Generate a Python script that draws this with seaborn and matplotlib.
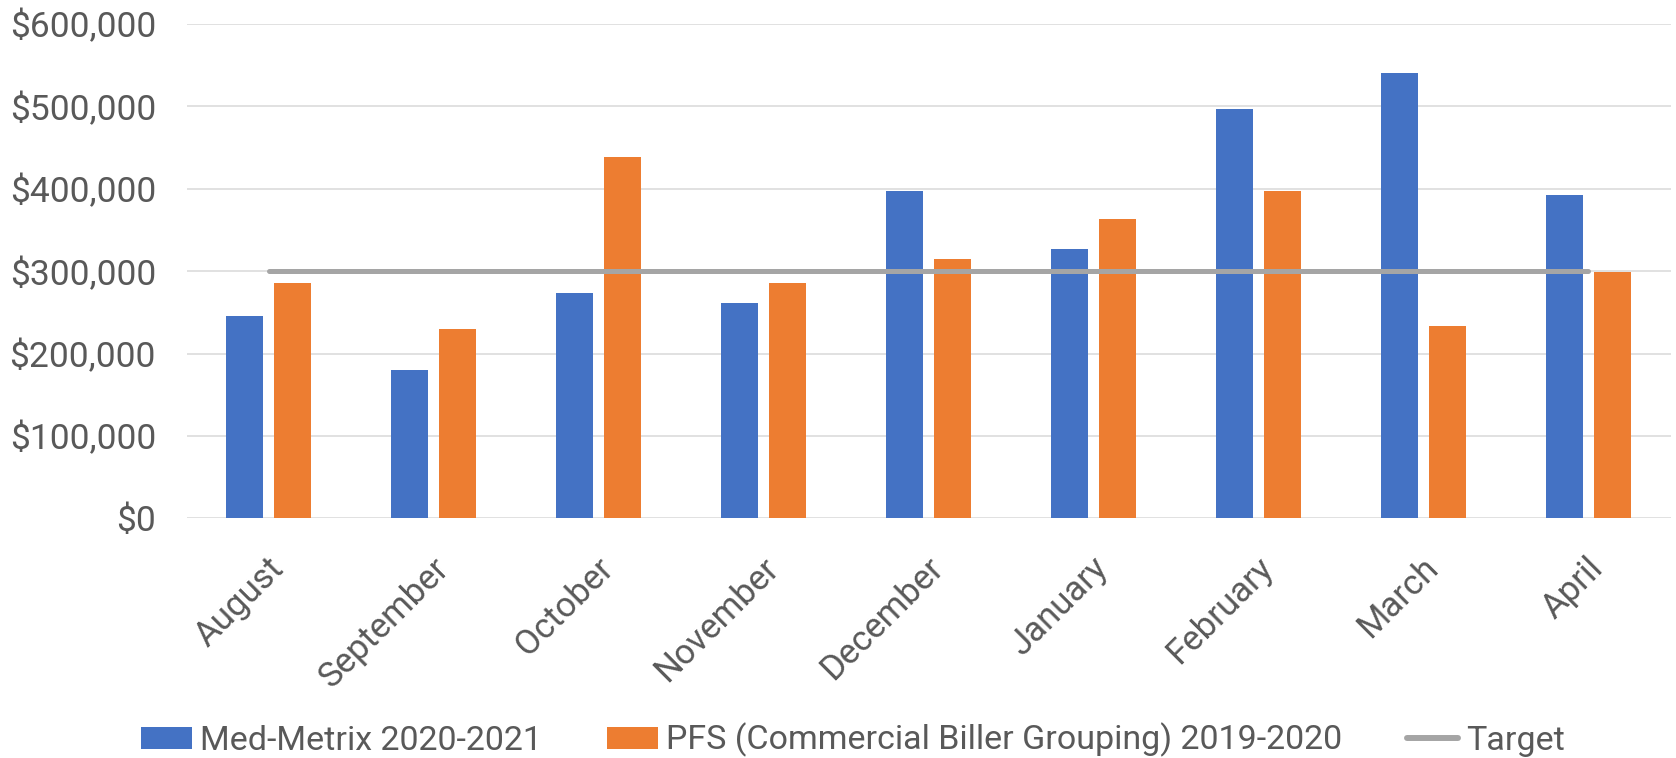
import matplotlib
matplotlib.use("Agg")
import matplotlib.pyplot as plt
import matplotlib.transforms as mtransforms
from matplotlib.patches import Patch
from matplotlib.lines import Line2D
from matplotlib.ticker import FuncFormatter, MultipleLocator
import seaborn as sns
import pandas as pd

# Monthly collections by source
months = ["August", "September", "October", "November", "December",
          "January", "February", "March", "April"]
med_metrix = [245000, 180000, 274000, 261000, 397000, 327000, 497000, 540000, 392000]
pfs = [286000, 230000, 439000, 285000, 315000, 363000, 397000, 233000, 299000]
target = [300000, 300000, 300000, 300000, 300000, 300000, 300000, 300000, 300000]

series_names = ["Med-Metrix 2020-2021", "PFS (Commercial Biller Grouping) 2019-2020"]
target_name = "Target"

BLUE = "#4472C4"
ORANGE = "#ED7D31"
GRAY = "#A5A5A5"
GRID = "#D9D9D9"
TEXT = "#595959"

sns.set_theme(style="white")
plt.rcParams["font.family"] = ["Roboto", "DejaVu Sans"]

df = pd.DataFrame({
    "month": months * 2,
    "value": med_metrix + pfs,
    "series": [series_names[0]] * len(months) + [series_names[1]] * len(months),
})

fig = plt.figure(figsize=(16.76, 7.58), dpi=100)
ax = fig.add_axes([186.5 / 1676, 1 - 518.3 / 758, 1484 / 1676, 494.4 / 758])

sns.barplot(data=df, x="month", y="value", hue="series", order=months,
            hue_order=series_names, palette=[BLUE, ORANGE], saturation=1,
            width=0.582, gap=0.23, linewidth=0, legend=False, ax=ax)

ax.plot(range(len(months)), target, color=GRAY, lw=3.6,
        solid_capstyle="round", zorder=3)

ax.set_xlim(-0.5, len(months) - 0.5)
ax.set_ylim(0, 600000)
ax.yaxis.set_major_locator(MultipleLocator(100000))
ax.yaxis.set_major_formatter(FuncFormatter(lambda v, p: f"${v:,.0f}"))
ax.grid(axis="y", color=GRID, lw=1.1, zorder=0)
ax.grid(axis="x", visible=False)
ax.set_axisbelow(True)
for s in ax.spines.values():
    s.set_visible(False)
ax.set_xlabel("")
ax.set_ylabel("")

ax.tick_params(axis="y", length=0, pad=22, labelsize=25.5, labelcolor=TEXT)
ax.tick_params(axis="x", length=0, pad=0, labelsize=25, labelcolor=TEXT)

offset = mtransforms.ScaledTranslation(-2 / 100, -33 / 100, fig.dpi_scale_trans)
for lbl in ax.get_xticklabels():
    lbl.set_rotation(45)
    lbl.set_ha("right")
    lbl.set_va("top")
    lbl.set_rotation_mode("anchor")
    lbl.set_transform(lbl.get_transform() + offset)

handles = [
    Patch(facecolor=BLUE, edgecolor="none", label=series_names[0]),
    Patch(facecolor=ORANGE, edgecolor="none", label=series_names[1]),
    Line2D([0], [0], color=GRAY, lw=4.3, solid_capstyle="round", label=target_name),
]
fig.legend(handles=handles, loc="center left",
           bbox_to_anchor=(141 / 1676, 1 - 740 / 758), ncol=3, frameon=False,
           fontsize=24.5, labelcolor=TEXT, borderpad=0, borderaxespad=0,
           handlelength=1.5, handleheight=0.62, handletextpad=0.24,
           columnspacing=1.9)

fig.savefig("out.png", dpi=100)
